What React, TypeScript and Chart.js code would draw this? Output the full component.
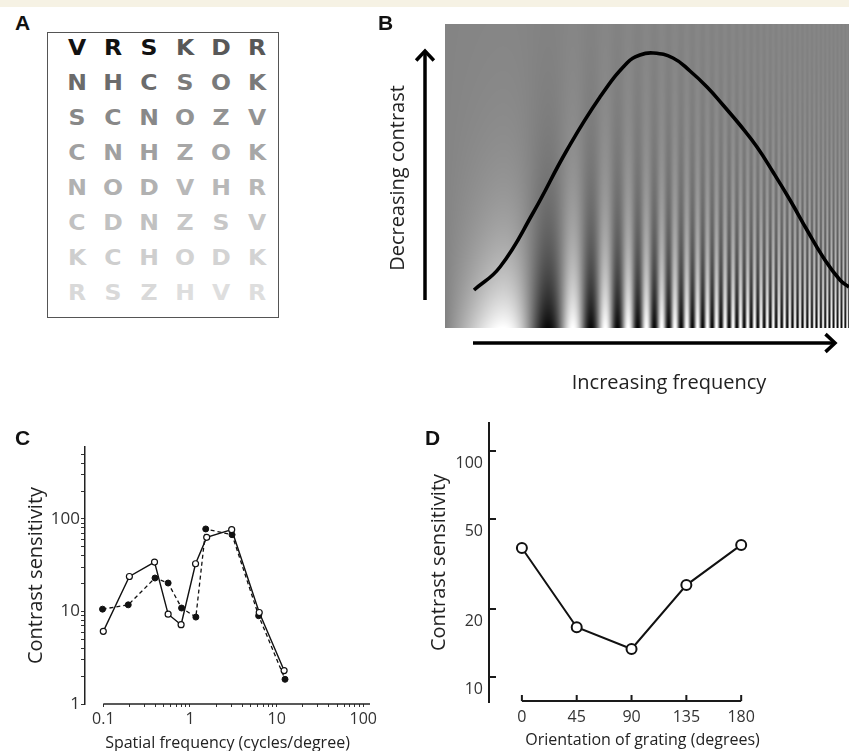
import React, { useEffect, useRef } from "react";
import { Chart, registerables } from "chart.js";

Chart.register(...registerables);

const SANS = '"Open Sans", "DejaVu Sans", sans-serif';
const BOLD = '"Liberation Sans", Arial, sans-serif';
const LETTER_FONT = '"DejaVu Sans", "Liberation Sans", sans-serif';

// ---------- Panel A: letter chart ----------
const LETTER_ROWS = ["VRSKDR", "NHCSOK", "SCNOZV", "CNHZOK", "NODVHR", "CDNZSV", "KCHODK", "RSZHVR"];
const TRIPLET_GRAYS = [
  "#121212", "#585858", "#6b6b6b", "#7a7a7a", "#888888", "#939393", "#a0a0a0", "#a7a7a7",
  "#b1b1b1", "#b8b8b8", "#c1c1c1", "#c7c7c7", "#cecece", "#d3d3d3", "#d9d9d9", "#dedede",
];

// ---------- Panel B: sensitivity curve over grating ----------
const CSF_FREQ = [29, 55, 88, 122, 155, 182, 195, 208, 228, 245, 262, 278, 295, 312, 328, 345, 362, 378, 395, 404];
const CSF_SENS = [38, 61, 115, 178, 231, 265, 273, 275, 270, 257, 241, 223, 203, 181, 156, 128, 98, 71, 48, 41];

// ---------- Panel C: contrast sensitivity vs spatial frequency ----------
const SF_OPEN = [0.1, 0.2, 0.39, 0.56, 0.79, 1.16, 1.56, 3.03, 6.3, 12.2];
const CS_OPEN = [6.1, 23.9, 34.2, 9.35, 7.2, 32.8, 63.3, 76.6, 9.75, 2.3];
const SF_FILLED = [0.098, 0.194, 0.395, 0.56, 0.8, 1.17, 1.52, 3.06, 6.2, 12.5];
const CS_FILLED = [10.6, 11.8, 23, 20.3, 10.9, 8.7, 78, 67.6, 9, 1.85];
const C_X_LABELS = [0.1, 1, 10, 100];
const C_Y_LABELS = [1, 10, 100];
const MINOR_STEPS = [1, 2, 3, 4, 5, 6, 7, 8, 9];

// ---------- Panel D: contrast sensitivity vs orientation ----------
const ORIENT = [0, 45, 90, 135, 180];
const CS_ORIENT = [37.2, 16.6, 13.3, 25.5, 38.4];
const D_Y_TICKS = [10, 20, 50, 100];

const C_X_TICKS = C_X_LABELS.flatMap((d) => MINOR_STEPS.map((k) => d * k)).filter((v) => v <= 100);
const C_Y_TICKS = C_Y_LABELS.flatMap((d) => MINOR_STEPS.map((k) => d * k)).filter((v) => v <= 500);

const gratingPlugin = {
  id: "grating",
  beforeDatasetsDraw(chart: any) {
    const { ctx, chartArea } = chart;
    const { left, top, width, height } = chartArea;
    const w = Math.round(width);
    const h = Math.round(height);
    const off = document.createElement("canvas");
    off.width = w;
    off.height = h;
    const octx = off.getContext("2d")!;
    const img = octx.createImageData(w, h);
    const phase = new Float32Array(w);
    for (let x = 0; x < w; x++) {
      const u = (x + 0.5) / w;
      phase[x] = 8.2 * u + 210 * Math.pow(u, 3.2) - 1.6;
    }
    for (let y = 0; y < h; y++) {
      const t = (h - 1 - y) / (h - 1);
      const c = Math.exp(-4.2 * t);
      for (let x = 0; x < w; x++) {
        const v = Math.max(0, Math.min(255, 132 + 123 * c * Math.cos(phase[x])));
        const i = (y * w + x) * 4;
        img.data[i] = v;
        img.data[i + 1] = v;
        img.data[i + 2] = v;
        img.data[i + 3] = 255;
      }
    }
    octx.putImageData(img, 0, 0);
    ctx.drawImage(off, left, top, width, height);
  },
};

function arrow(ctx: CanvasRenderingContext2D, x1: number, y1: number, x2: number, y2: number) {
  const ang = Math.atan2(y2 - y1, x2 - x1);
  const hl = 13;
  ctx.beginPath();
  ctx.moveTo(x1, y1);
  ctx.lineTo(x2 - Math.cos(ang) * 1.5, y2 - Math.sin(ang) * 1.5);
  ctx.stroke();
  ctx.beginPath();
  ctx.moveTo(x2 - hl * Math.cos(ang - 0.75), y2 - hl * Math.sin(ang - 0.75));
  ctx.lineTo(x2, y2);
  ctx.lineTo(x2 - hl * Math.cos(ang + 0.75), y2 - hl * Math.sin(ang + 0.75));
  ctx.stroke();
}

const arrowsPlugin = {
  id: "arrows",
  afterDraw(chart: any) {
    const { ctx, chartArea } = chart;
    ctx.save();
    ctx.strokeStyle = "#000";
    ctx.lineWidth = 3.5;
    ctx.lineJoin = "miter";
    ctx.lineCap = "butt";
    const ax = chartArea.left - 20;
    arrow(ctx, ax, chartArea.bottom - 28, ax, chartArea.top + 27);
    const ay = chartArea.bottom + 15;
    arrow(ctx, chartArea.left + 28, ay, chartArea.right - 14, ay);
    ctx.restore();
  },
};

const cAxisPlugin = {
  id: "cAxis",
  afterDraw(chart: any) {
    const { ctx, chartArea, scales } = chart;
    ctx.save();
    ctx.strokeStyle = "#222";
    ctx.lineWidth = 1.5;
    ctx.beginPath();
    ctx.moveTo(scales.x.getPixelForValue(C_X_LABELS[0]), chartArea.bottom);
    ctx.lineTo(chartArea.right, chartArea.bottom);
    ctx.stroke();
    ctx.restore();
  },
};

const dAxisPlugin = {
  id: "dAxis",
  afterDraw(chart: any) {
    const { ctx, chartArea, scales } = chart;
    const { x, y } = scales;
    ctx.save();
    ctx.strokeStyle = "#1a1a1a";
    ctx.lineWidth = 2;
    const yb = chartArea.bottom - 1;
    ctx.beginPath();
    ctx.moveTo(x.getPixelForValue(ORIENT[0]), yb);
    ctx.lineTo(x.getPixelForValue(ORIENT[ORIENT.length - 1]), yb);
    ORIENT.forEach((v) => {
      const px = x.getPixelForValue(v);
      ctx.moveTo(px, yb);
      ctx.lineTo(px, yb - 6);
    });
    D_Y_TICKS.forEach((v) => {
      const py = y.getPixelForValue(v);
      ctx.moveTo(chartArea.left, py);
      ctx.lineTo(chartArea.left + 7, py);
    });
    ctx.stroke();
    ctx.restore();
  },
};

function configB(): any {
  return {
    type: "line",
    data: {
      datasets: [
        {
          data: CSF_FREQ.map((x, i) => ({ x, y: CSF_SENS[i] })),
          borderColor: "#000",
          borderWidth: 3.6,
          pointRadius: 0,
          tension: 0.45,
          fill: false,
          clip: false,
        },
      ],
    },
    options: {
      animation: false,
      responsive: false,
      layout: { padding: { left: 75, top: 24, right: 0, bottom: 72 } },
      plugins: { legend: { display: false }, tooltip: { enabled: false } },
      scales: {
        x: { type: "linear", display: false, min: 0, max: 404 },
        y: { type: "linear", display: false, min: 0, max: 304 },
      },
    },
    plugins: [gratingPlugin, arrowsPlugin],
  };
}

function configC(): any {
  return {
    type: "scatter",
    data: {
      datasets: [
        {
          data: SF_OPEN.map((x, i) => ({ x, y: CS_OPEN[i] })),
          showLine: true,
          borderColor: "#111",
          borderWidth: 1.4,
          pointRadius: 3,
          pointBackgroundColor: "#fff",
          pointBorderColor: "#111",
          pointBorderWidth: 1.2,
          clip: false,
        },
        {
          data: SF_FILLED.map((x, i) => ({ x, y: CS_FILLED[i] })),
          showLine: true,
          borderColor: "#111",
          borderWidth: 1.3,
          borderDash: [4, 3],
          pointRadius: 3,
          pointBackgroundColor: "#111",
          pointBorderColor: "#111",
          pointBorderWidth: 1,
          clip: false,
        },
      ],
    },
    options: {
      animation: false,
      responsive: false,
      layout: { padding: { left: 0, top: 47, right: 30, bottom: 0 } },
      plugins: { legend: { display: false }, tooltip: { enabled: false } },
      scales: {
        x: {
          type: "logarithmic",
          min: 0.0615,
          max: 119.5,
          afterBuildTicks: (s: any) => {
            s.ticks = C_X_TICKS.map((v) => ({ value: v }));
          },
          afterFit: (s: any) => {
            s.height = 47;
          },
          ticks: {
            autoSkip: false,
            maxRotation: 0,
            padding: 3,
            color: "#333",
            font: { family: SANS, size: 16 },
            callback: (v: number) => (C_X_LABELS.includes(v) ? String(v) : ""),
          },
          grid: { drawOnChartArea: false, tickLength: 3, color: "#333" },
          border: { display: false },
          title: {
            display: true,
            text: "Spatial frequency (cycles/degree)",
            color: "#222",
            font: { family: SANS, size: 16, lineHeight: 1 },
            padding: { top: 0, bottom: 0 },
          },
        },
        y: {
          type: "logarithmic",
          min: 1,
          max: 600,
          afterBuildTicks: (s: any) => {
            s.ticks = C_Y_TICKS.map((v) => ({ value: v }));
          },
          afterFit: (s: any) => {
            s.width = 85;
          },
          ticks: {
            autoSkip: false,
            padding: 1,
            color: "#333",
            font: { family: SANS, size: 17 },
            callback: (v: number) => (C_Y_LABELS.includes(v) ? String(v) : ""),
          },
          grid: { drawOnChartArea: false, tickLength: 4, color: "#333" },
          border: { display: true, color: "#222", width: 1.5 },
          title: {
            display: true,
            text: "Contrast sensitivity",
            color: "#222",
            font: { family: SANS, size: 20 },
            padding: { top: 24, bottom: 0 },
          },
        },
      },
    },
    plugins: [cAxisPlugin],
  };
}

function configD(): any {
  return {
    type: "line",
    data: {
      datasets: [
        {
          data: ORIENT.map((x, i) => ({ x, y: CS_ORIENT[i] })),
          borderColor: "#111",
          borderWidth: 2,
          pointRadius: 5,
          pointBackgroundColor: "#fff",
          pointBorderColor: "#111",
          pointBorderWidth: 2,
          tension: 0,
          clip: false,
        },
      ],
    },
    options: {
      animation: false,
      responsive: false,
      layout: { padding: { left: 0, top: 23, right: 53, bottom: 0 } },
      plugins: { legend: { display: false }, tooltip: { enabled: false } },
      scales: {
        x: {
          type: "linear",
          min: -27,
          max: 225,
          afterBuildTicks: (s: any) => {
            s.ticks = ORIENT.map((v) => ({ value: v }));
          },
          afterFit: (s: any) => {
            s.height = 49;
          },
          ticks: { autoSkip: false, maxRotation: 0, padding: 6, color: "#333", font: { family: SANS, size: 16 } },
          grid: { display: false, drawTicks: false },
          border: { display: false },
          title: {
            display: true,
            text: "Orientation of grating (degrees)",
            color: "#222",
            font: { family: SANS, size: 16, lineHeight: 1 },
            padding: { top: 0, bottom: 3 },
          },
        },
        y: {
          type: "logarithmic",
          min: 7.75,
          max: 133,
          afterBuildTicks: (s: any) => {
            s.ticks = D_Y_TICKS.map((v) => ({ value: v }));
          },
          afterFit: (s: any) => {
            s.width = 89;
          },
          ticks: {
            autoSkip: false,
            padding: 6,
            labelOffset: 12,
            color: "#333",
            font: { family: SANS, size: 16 },
            callback: (v: number) => String(v),
          },
          grid: { display: false, drawTicks: false },
          border: { display: true, color: "#1a1a1a", width: 2 },
          title: {
            display: true,
            text: "Contrast sensitivity",
            color: "#222",
            font: { family: SANS, size: 20 },
            padding: { top: 27, bottom: 0 },
          },
        },
      },
    },
    plugins: [dAxisPlugin],
  };
}

function ChartCanvas(props: { make: () => any; left: number; top: number; width: number; height: number }) {
  const ref = useRef<HTMLCanvasElement | null>(null);
  useEffect(() => {
    const chart = new Chart(ref.current as HTMLCanvasElement, props.make());
    return () => chart.destroy();
  }, []);
  return (
    <canvas
      ref={ref}
      width={props.width}
      height={props.height}
      style={{ position: "absolute", left: props.left, top: props.top, width: props.width, height: props.height }}
    />
  );
}

const panelLabel = (text: string, left: number, top: number) => (
  <div
    key={text}
    style={{
      position: "absolute",
      left,
      top,
      fontFamily: BOLD,
      fontWeight: 700,
      fontSize: 21,
      lineHeight: "21px",
      color: "#111",
    }}
  >
    {text}
  </div>
);

export default function App() {
  useEffect(() => {
    document.body.style.margin = "0";
  }, []);

  return (
    <div
      style={{
        position: "relative",
        width: 849,
        height: 751,
        overflow: "hidden",
        background: "#fff",
        fontFamily: SANS,
      }}
    >
      <div style={{ position: "absolute", left: 0, top: 0, width: 849, height: 7, background: "#f6f2e4" }} />

      {/* Panel A */}
      <div
        style={{
          position: "absolute",
          left: 47,
          top: 32,
          width: 230,
          height: 284,
          border: "1.5px solid #555",
        }}
      />
      {LETTER_ROWS.map((row, i) =>
        row.split("").map((ch, j) => (
          <div
            key={`${i}-${j}`}
            style={{
              position: "absolute",
              left: 77 + 36 * j,
              top: 48 + 35 * i,
              transform: "translate(-50%, -50%) scaleX(1.12)",
              fontFamily: LETTER_FONT,
              fontWeight: 700,
              fontSize: 21,
              lineHeight: "21px",
              color: TRIPLET_GRAYS[i * 2 + (j < 3 ? 0 : 1)],
            }}
          >
            {ch}
          </div>
        ))
      )}

      {/* Panel B */}
      <ChartCanvas make={configB} left={370} top={0} width={479} height={400} />
      <div
        style={{
          position: "absolute",
          left: 396,
          top: 178,
          transform: "translate(-50%, -50%) rotate(-90deg)",
          whiteSpace: "nowrap",
          fontFamily: SANS,
          fontSize: 20,
          color: "#222",
        }}
      >
        Decreasing contrast
      </div>
      <div
        style={{
          position: "absolute",
          left: 669,
          top: 381,
          transform: "translate(-50%, -50%)",
          whiteSpace: "nowrap",
          fontFamily: SANS,
          fontSize: 20,
          color: "#222",
        }}
      >
        Increasing frequency
      </div>

      {/* Panel C */}
      <ChartCanvas make={configC} left={0} top={400} width={400} height={351} />
      {/* Panel D */}
      <ChartCanvas make={configD} left={400} top={400} width={449} height={351} />

      {panelLabel("A", 15, 12)}
      {panelLabel("B", 378, 12)}
      {panelLabel("C", 15, 427)}
      {panelLabel("D", 425, 427)}
    </div>
  );
}
